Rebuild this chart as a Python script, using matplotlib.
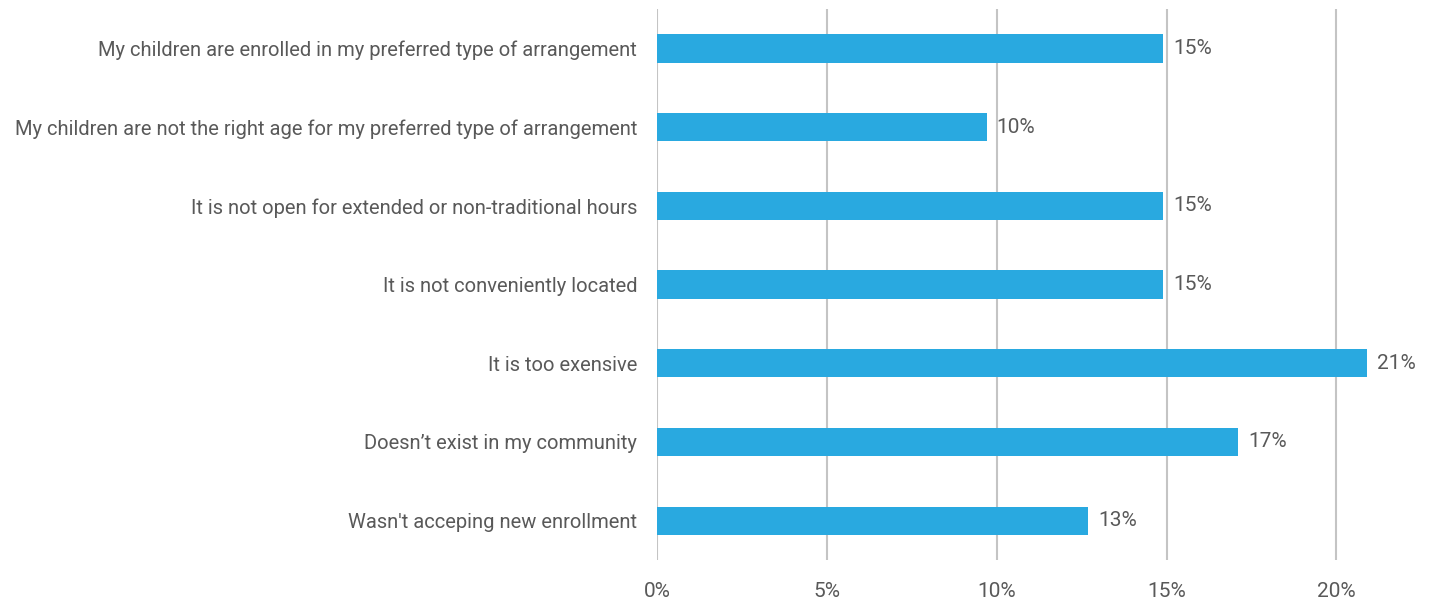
import numpy as np
import matplotlib.pyplot as plt
from matplotlib.ticker import PercentFormatter

plt.rcParams['font.family'] = ['Roboto', 'DejaVu Sans']

# data (top to bottom)
reasons = ["My children are enrolled in my preferred type of arrangement",
           "My children are not the right age for my preferred type of arrangement",
           "It is not open for extended or non-traditional hours",
           "It is not conveniently located",
           "It is too exensive",
           "Doesn\u2019t exist in my community",
           "Wasn't acceping new enrollment"]
shares = [0.149, 0.097, 0.149, 0.149, 0.209, 0.171, 0.127]
labels = ["15%", "10%", "15%", "15%", "21%", "17%", "13%"]

txt_col = "#595959"
bar_col = "#29a9e0"

fig = plt.figure(figsize=(14.33, 6.04), dpi=100)
ax = fig.add_axes([0.4585, 0.0728, 0.5215, 0.912])

ind = np.arange(len(reasons))
bars = ax.barh(ind, shares, height=0.36, color=bar_col, zorder=3)
for b, lab in zip(bars, labels):
    ax.text(b.get_width() + 0.003, b.get_y() + b.get_height() / 2, lab,
            va="center", ha="left", fontsize=15, color=txt_col)

ax.set_ylim(len(reasons) - 0.5, -0.5)
ax.set_xlim(0, 0.22)
ax.set_yticks(ind)
ax.set_yticklabels(reasons, fontsize=14.5, color=txt_col)
ax.set_xticks([0, 0.05, 0.10, 0.15, 0.20])
ax.xaxis.set_major_formatter(PercentFormatter(1.0, decimals=0))
ax.tick_params(axis="x", length=0, pad=16, labelsize=15, labelcolor=txt_col)
ax.tick_params(axis="y", length=0, pad=14.4)
ax.xaxis.grid(True, color="#c4c4c4", linewidth=1.5, zorder=0)
for s in ax.spines.values():
    s.set_visible(False)

fig.savefig("out.png", dpi=100)
